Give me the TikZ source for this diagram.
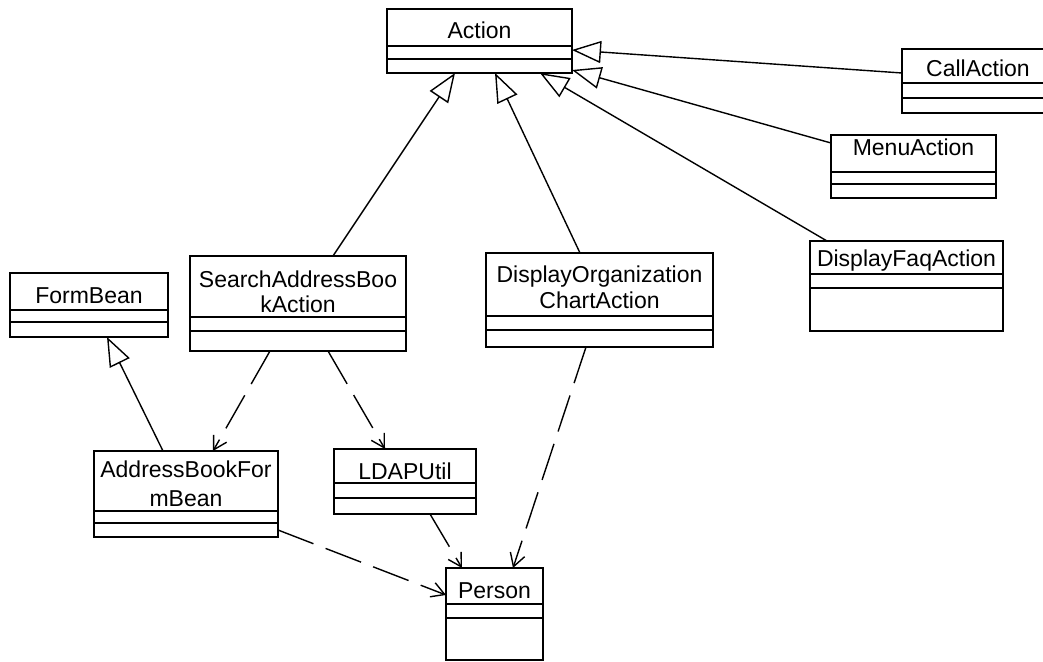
\documentclass[tikz,border=0pt]{standalone}
\usepackage{fontspec}
\setmainfont{Liberation Sans}
\usetikzlibrary{arrows.meta}

% class box with two compartment separators, given their depth below the top edge
\newcommand\classlines[3]{%
  \draw[sep] ([yshift=-#2pt]#1.north west) -- ([yshift=-#2pt]#1.north east);
  \draw[sep] ([yshift=-#3pt]#1.north west) -- ([yshift=-#3pt]#1.north east);
}

\begin{document}
\begin{tikzpicture}[x=1pt,y=-1pt,
  classbox/.style={draw=black, line width=1.6pt, fill=white, inner sep=0pt, outer sep=0pt},
  sep/.style={line width=1.6pt},
  cname/.style={anchor=base, inner sep=0pt, font=\fontsize{23}{27}\selectfont},
  inherit/.style={line width=1.4pt, -{Triangle[open, length=29pt, width=22pt]}},
  depend/.style={line width=1.4pt, dash pattern=on 38pt off 13pt, -{Straight Barb[length=13pt, width=15pt]}},
]
\useasboundingbox (0,0) rectangle (1043,661);
\clip (0,0) rectangle (1043,661);

% class boxes
\node[classbox, minimum width=185pt, minimum height=64pt] (act)    at (479.5,41)   {};
\node[classbox, minimum width=158pt, minimum height=64pt] (call)   at (981,81)     {};
\node[classbox, minimum width=165pt, minimum height=63pt] (menu)   at (913.5,166.5){};
\node[classbox, minimum width=193pt, minimum height=90pt] (faq)    at (906.5,286)  {};
\node[classbox, minimum width=158pt, minimum height=64pt] (fb)     at (89,305)     {};
\node[classbox, minimum width=216pt, minimum height=95pt] (search) at (298,303.5)  {};
\node[classbox, minimum width=227pt, minimum height=94pt] (org)    at (599.5,300)  {};
\node[classbox, minimum width=184pt, minimum height=86pt] (abfb)   at (186,494)    {};
\node[classbox, minimum width=142pt, minimum height=65pt] (ldap)   at (405,481.5)  {};
\node[classbox, minimum width=97pt,  minimum height=92pt] (person) at (494.5,614)  {};

\classlines{act}{37}{50}
\classlines{call}{34}{49}
\classlines{menu}{37}{49}
\classlines{faq}{33}{47}
\classlines{fb}{37}{49}
\classlines{search}{61}{75}
\classlines{org}{63}{77}
\classlines{abfb}{60}{72}
\classlines{ldap}{34}{49}
\classlines{person}{36}{50}

% class names
\node[cname] (act-n)     at (479.5,38)  {Action};
\node[cname] (call-n)    at (978,77)    {CallAction};
\node[cname] (menu-n)    at (913.5,155) {MenuAction};
\node[cname] (faq-n)     at (906.5,266) {DisplayFaqAction};
\node[cname] (fb-n)      at (89,303)    {FormBean};
\node[cname] (search-n1) at (298,287)   {SearchAddressBoo};
\node[cname] (search-n2) at (298,312)   {kAction};
\node[cname] (org-n1)    at (599.5,282) {DisplayOrganization};
\node[cname] (org-n2)    at (599.5,308) {ChartAction};
\node[cname] (abfb-n1)   at (186,477)   {AddressBookFor};
\node[cname] (abfb-n2)   at (186,506)   {mBean};
\node[cname] (ldap-n)    at (405,479)   {LDAPUtil};
\node[cname] (person-n)  at (494.5,598) {Person};

% generalizations
\draw[inherit] ([yshift=-24pt]call.north west)  -- ([yshift=-41pt]act.north east);
\draw[inherit] ([yshift=-8pt]menu.north west)   -- ([yshift=-61pt]act.north east);
\draw[inherit] ([xshift=17pt]faq.north west)    -- ([xshift=-32pt]act.south east);
\draw[inherit] ([xshift=143pt]search.north west) -- ([xshift=68pt]act.south west);
\draw[inherit] ([xshift=94pt]org.north west)    -- ([xshift=108pt]act.south west);
\draw[inherit] ([xshift=69pt]abfb.north west)   -- ([xshift=97pt]fb.south west);

% dependencies
\draw[depend] ([xshift=80pt]search.south west)  -- ([xshift=119pt]abfb.north west);
\draw[depend] ([xshift=138pt]search.south west) -- ([xshift=51pt]ldap.north west);
\draw[depend] ([yshift=7pt]abfb.south east)     -- ([yshift=-27pt]person.north west);
\draw[depend] ([xshift=96pt]ldap.south west)    -- ([xshift=16pt]person.north west);
\draw[depend] ([xshift=100pt]org.south west)    -- ([xshift=67pt]person.north west);
\end{tikzpicture}
\end{document}
